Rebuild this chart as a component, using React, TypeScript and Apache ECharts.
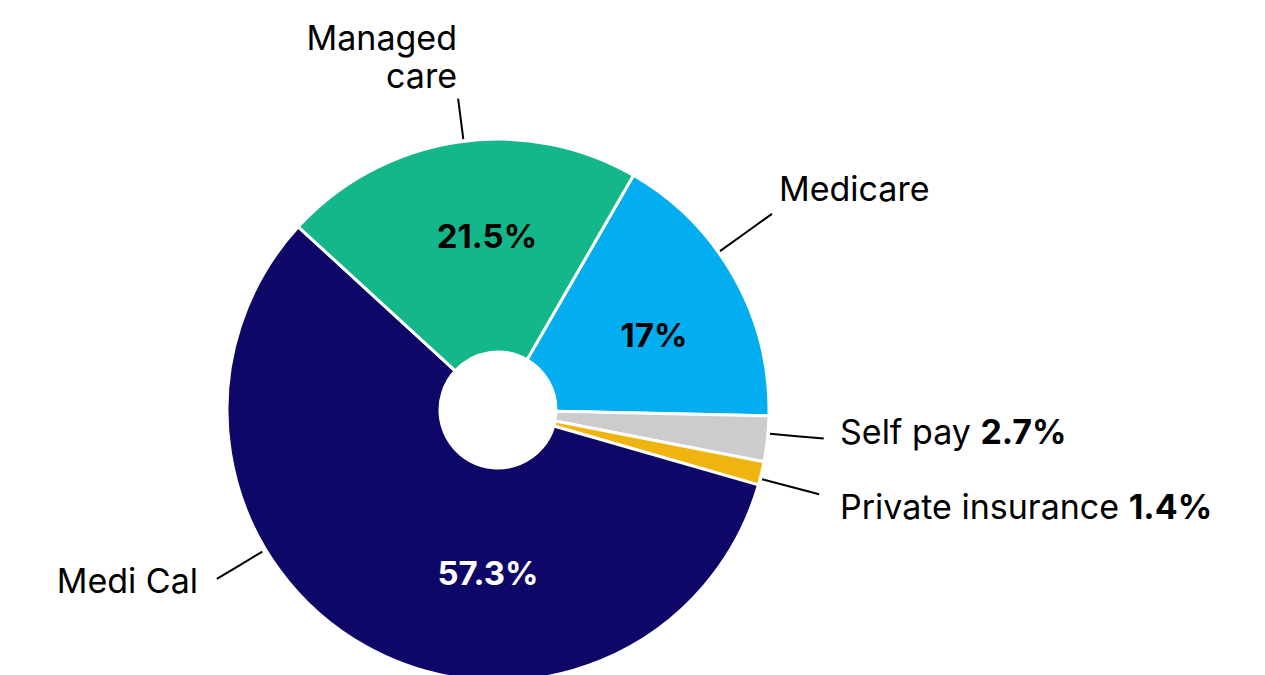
import React, { useEffect, useRef } from 'react';
import * as echarts from 'echarts';

// ---- data ----
const categories = ['Medicare', 'Self pay', 'Private insurance', 'Medi Cal', 'Managed care'];
const shares = [17, 2.7, 1.4, 57.3, 21.5];
const labelNames = ['Medicare', 'Self pay', 'Private insurance', 'Medi Cal', 'Managed\ncare'];
const showShareOutside = [false, true, true, false, false];

// ---- styles ----
const colors = ['#03aef0', '#cccccc', '#f0b411', '#0f0768', '#14b789'];
const insideTextColors = ['#000000', '', '', '#ffffff', '#000000'];
const CX = 498;
const CY = 410;
const R0 = 58;
const R = 271;
const FONT = 'Inter, "Noto Sans", sans-serif';

// inside label anchor positions (style)
const insidePos: (number[] | null)[] = [[654, 335], null, null, [488, 573], [487, 236]];
// outside label positions [x, y, align]
const outsidePos: [number, number, string][] = [
  [779, 188, 'left'],
  [840, 431, 'left'],
  [840, 506, 'left'],
  [198, 580, 'right'],
  [457, 56, 'right'],
];
// leader lines: [angle from 12 o'clock clockwise, r start, r end]
const leader: number[][] = [
  [54.4, 273, 337],
  [95, 273, 327],
  [104.7, 273, 332],
  [239, 275, 328],
  [352.7, 273, 314],
];

function polar(a: number, r: number): number[] {
  const rad = (a * Math.PI) / 180;
  return [CX + r * Math.sin(rad), CY - r * Math.cos(rad)];
}

const fmt = (v: number) => `${v}%`;

export default function App() {
  const ref = useRef<HTMLDivElement>(null);
  useEffect(() => {
    document.body.style.margin = '0';
    const chart = echarts.init(ref.current!, null, { renderer: 'svg' });
    const baseData = categories.map((c, i) => ({
      name: c,
      value: shares[i],
      itemStyle: { color: colors[i] },
    }));
    chart.setOption({
      animation: false,
      backgroundColor: '#ffffff',
      series: [
        {
          type: 'pie',
          center: [CX, CY],
          radius: [R0, R],
          startAngle: 60,
          clockwise: true,
          silent: true,
          avoidLabelOverlap: false,
          itemStyle: { borderColor: '#ffffff', borderWidth: 3 },
          labelLine: { show: false },
          data: baseData.map((d, i) => ({
            ...d,
            label: {
              show: insidePos[i] != null,
              position: 'inside',
              formatter: () => fmt(shares[i]),
              color: insideTextColors[i] || '#000',
              fontFamily: FONT,
              fontWeight: 'bold',
              fontSize: 33,
            },
          })),
          labelLayout: (p: any) => {
            const pos = insidePos[p.dataIndex];
            if (!pos) return {};
            return { x: pos[0], y: pos[1], align: 'center', verticalAlign: 'middle' };
          },
        },
        {
          type: 'pie',
          center: [CX, CY],
          radius: [R0, R],
          startAngle: 60,
          clockwise: true,
          silent: true,
          avoidLabelOverlap: false,
          itemStyle: { color: 'rgba(0,0,0,0)', borderWidth: 0 },
          label: {
            show: true,
            position: 'outside',
            fontFamily: FONT,
            fontSize: 34,
            color: '#000',
            lineHeight: 38,
            rich: {
              b: { fontFamily: FONT, fontSize: 34, fontWeight: 'bold', color: '#000' },
            },
          },
          labelLine: { show: true, lineStyle: { color: '#000', width: 2 } },
          data: categories.map((c, i) => ({
            name: c,
            value: shares[i],
            label: {
              formatter: () =>
                showShareOutside[i] ? `${labelNames[i]} {b|${fmt(shares[i])}}` : labelNames[i],
              align: outsidePos[i][2],
            },
          })),
          labelLayout: (p: any) => {
            const i = p.dataIndex;
            const [x, y, align] = outsidePos[i];
            const [a, r1, r2] = leader[i];
            const s = polar(a, r1);
            const e = polar(a, r2);
            const m = [(s[0] + e[0]) / 2, (s[1] + e[1]) / 2];
            return {
              x,
              y,
              align,
              verticalAlign: 'middle',
              labelLinePoints: [s, m, e],
            };
          },
        },
      ],
    });
    return () => chart.dispose();
  }, []);
  return <div ref={ref} style={{ width: 1265, height: 675 }} />;
}
